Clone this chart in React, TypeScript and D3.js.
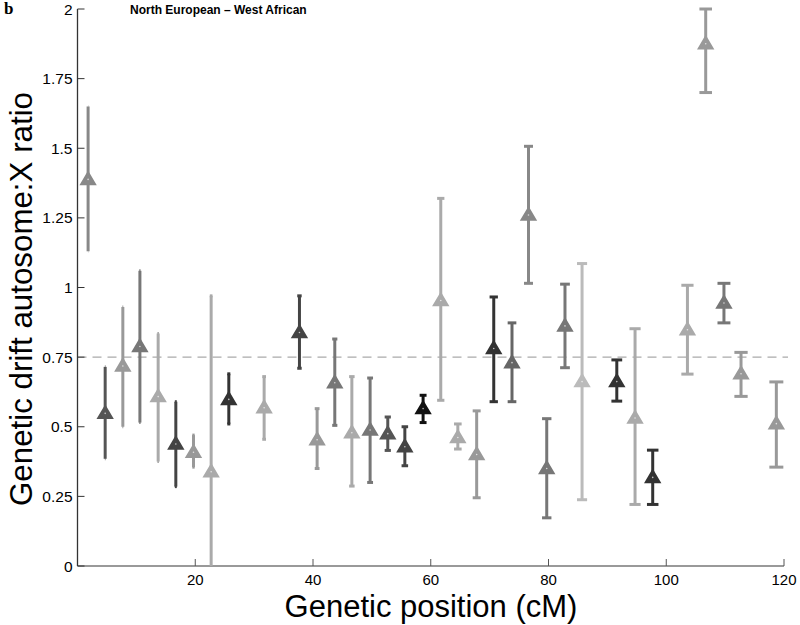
import React from "react";
import * as d3 from "d3";

const positions = [1.8, 4.7, 7.7, 10.6, 13.7, 16.7, 19.7, 22.7, 25.7, 31.7, 37.7, 40.7, 43.7, 46.6, 49.7, 52.7, 55.6, 58.7, 61.7, 64.6, 67.8, 70.7, 73.8, 76.6, 79.7, 82.8, 85.7, 91.6, 94.7, 97.7, 103.6, 106.7, 109.8, 112.7, 118.7];
const ratios = [1.39, 0.55, 0.72, 0.79, 0.61, 0.44, 0.41, 0.34, 0.6, 0.57, 0.84, 0.455, 0.66, 0.48, 0.49, 0.477, 0.43, 0.567, 0.955, 0.463, 0.402, 0.783, 0.732, 1.262, 0.352, 0.864, 0.664, 0.664, 0.533, 0.32, 0.85, 1.877, 0.946, 0.692, 0.513];
const lowers = [1.13, 0.385, 0.5, 0.515, 0.375, 0.285, 0.355, -0.3, 0.51, 0.455, 0.71, 0.35, 0.505, 0.287, 0.3, 0.415, 0.36, 0.515, 0.595, 0.42, 0.245, 0.59, 0.59, 1.015, 0.173, 0.712, 0.238, 0.592, 0.221, 0.221, 0.689, 1.7, 0.873, 0.609, 0.355];
const uppers = [1.65, 0.715, 0.93, 1.06, 0.835, 0.59, 0.47, 0.97, 0.69, 0.68, 0.97, 0.565, 0.815, 0.68, 0.675, 0.535, 0.5, 0.613, 1.32, 0.51, 0.557, 0.966, 0.873, 1.507, 0.529, 1.012, 1.086, 0.74, 0.852, 0.416, 1.008, 2.0, 1.015, 0.767, 0.661];
const shades = ["#888", "#555", "#999", "#777", "#aaa", "#444", "#999", "#aaa", "#333", "#aaa", "#444", "#999", "#777", "#aaa", "#777", "#555", "#444", "#111", "#aaa", "#aaa", "#999", "#333", "#666", "#888", "#777", "#777", "#bbb", "#333", "#aaa", "#333", "#aaa", "#999", "#777", "#999", "#999"];

const xTicks = [20, 40, 60, 80, 100, 120];
const yTicks = [0, 0.25, 0.5, 0.75, 1, 1.25, 1.5, 1.75, 2];
const yTickLabels = ["0", "0.25", "0.5", "0.75", "1", "1.25", "1.5", "1.75", "2"];
const refLine = 0.75;

export default function App() {
  const x = d3.scaleLinear().domain([0, 120]).range([77.5, 784]);
  const y = d3.scaleLinear().domain([0, 2]).range([566, 9]);
  const font = "'Liberation Sans', Arial, Helvetica, sans-serif";
  const tri = (cx: number, cy: number) => {
    const p = d3.path();
    p.moveTo(cx, cy - 6);
    p.lineTo(cx - 6.5, cy + 5);
    p.lineTo(cx + 6.5, cy + 5);
    p.closePath();
    return p.toString();
  };
  return (
    <svg width={800} height={625} style={{ position: "absolute", left: 0, top: 0, background: "#fff" }}>
      <defs>
        <clipPath id="plotclip">
          <rect x={60} y={0} width={740} height={566} />
        </clipPath>
      </defs>
      {/* reference line */}
      <line x1={x(0)} x2={x(120) + 4} y1={y(refLine)} y2={y(refLine)} stroke="#aaa" strokeWidth={1.2} strokeDasharray="9,6" />
      {/* axes */}
      <line x1={x(0)} x2={x(120)} y1={y(0)} y2={y(0)} stroke="#777" strokeWidth={1.5} />
      <line x1={x(0)} x2={x(0)} y1={y(0)} y2={y(2)} stroke="#333" strokeWidth={1.3} />
      {xTicks.map((t) => (
        <g key={"xt" + t}>
          <line x1={x(t)} x2={x(t)} y1={y(0)} y2={y(0) - 7} stroke="#555" strokeWidth={1} />
          <text x={x(t)} y={584.5} textAnchor="middle" fontFamily={font} fontSize={15}>{String(t)}</text>
        </g>
      ))}
      {yTicks.map((t, i) => (
        <g key={"yt" + t}>
          <line x1={x(0)} x2={x(0) + 7} y1={y(t)} y2={y(t)} stroke="#333" strokeWidth={1} />
          <text x={x(0) - 5} y={y(t) + 5.5} textAnchor="end" fontFamily={font} fontSize={15.5}>{yTickLabels[i]}</text>
        </g>
      ))}
      {/* error bars */}
      <g clipPath="url(#plotclip)">
        {positions.map((p, i) => {
          const cx = x(p);
          const hw = x(p * 1.01) - cx;
          const c = shades[i];
          return (
            <g key={"pt" + i}>
              <line x1={cx} x2={cx} y1={y(lowers[i])} y2={y(uppers[i])} stroke={c} strokeWidth={3} />
              <line x1={cx - hw} x2={cx + hw} y1={y(lowers[i])} y2={y(lowers[i])} stroke={c} strokeWidth={3} />
              <line x1={cx - hw} x2={cx + hw} y1={y(uppers[i])} y2={y(uppers[i])} stroke={c} strokeWidth={3} />
              <path d={tri(cx, y(ratios[i]))} fill={c} stroke={c} strokeWidth={2.5} strokeLinejoin="miter" />
              <circle cx={cx} cy={y(ratios[i]) + 0.5} r={0.8} fill="#fff" opacity={0.7} />
            </g>
          );
        })}
      </g>
      {/* labels */}
      <text x={431} y={617} textAnchor="middle" fontFamily={font} fontSize={31}>Genetic position (cM)</text>
      <text transform={`translate(32,${299}) rotate(-90)`} textAnchor="middle" fontFamily={font} fontSize={31.3}>Genetic drift autosome:X ratio</text>
      <text x={130} y={14} fontFamily={font} fontSize={12} fontWeight="bold">North European – West African</text>
      <text x={4} y={14} fontFamily="'Liberation Serif', 'Times New Roman', serif" fontSize={17} fontWeight="bold">b</text>
    </svg>
  );
}
